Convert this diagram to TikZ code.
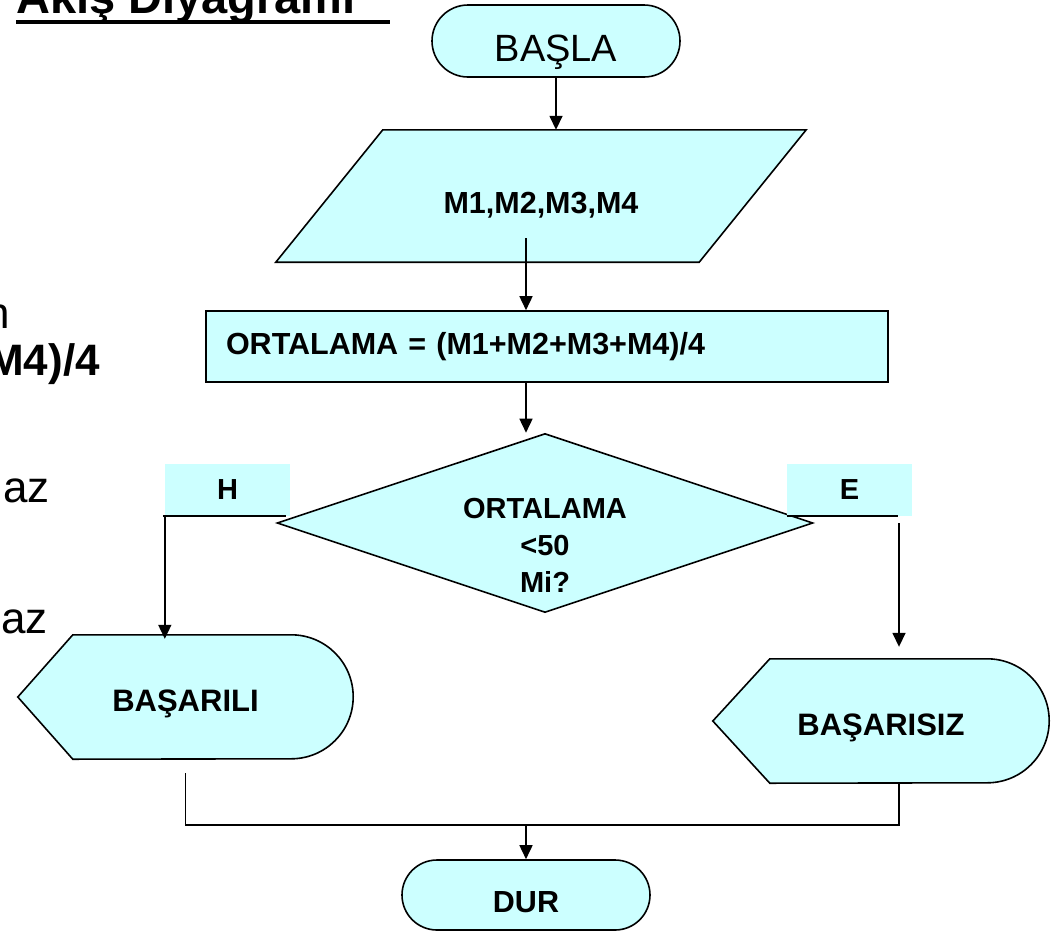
\documentclass[tikz,border=0pt]{standalone}
\usepackage{fontspec}
\setmainfont{Liberation Sans}
\usetikzlibrary{arrows.meta,positioning,shapes.geometric,shapes.misc,backgrounds}
\definecolor{boxcyan}{RGB}{204,255,255}

\begin{document}
\begin{tikzpicture}[
  x=1pt, y=-1pt,
  every node/.style={inner sep=0pt},
  term/.style={draw,fill=boxcyan,line width=1.6pt,rounded rectangle,minimum width=248pt,minimum height=72pt},
  io/.style={minimum width=423pt,minimum height=132pt,text height=34pt,text depth=0pt},
  proc/.style={draw,fill=boxcyan,line width=1.6pt,minimum width=682pt,minimum height=71pt,inner xsep=20pt,text width=642pt,align=left},
  dec/.style={draw,fill=boxcyan,line width=1.6pt,diamond,minimum width=536pt,minimum height=179pt},
  disp/.style={draw,fill=boxcyan,line width=1.6pt},
  tag/.style={fill=boxcyan,minimum width=125pt,minimum height=52pt},
  bt/.style={font=\bfseries\fontsize{30.5}{37}\selectfont},
  dt/.style={font=\bfseries\fontsize{29}{37}\selectfont},
  bigbt/.style={font=\bfseries\fontsize{31}{37}\selectfont,text height=28pt,text depth=0pt},
  slide/.style={font=\fontsize{44}{50}\selectfont},
  wire/.style={line width=1.6pt},
  arr/.style={-{Triangle[length=14pt,width=13pt]},line width=1.6pt}
]
\useasboundingbox (0,0) rectangle (1060,932);

% slide text behind the chart
\node[anchor=base west,font=\bfseries\fontsize{47}{50}\selectfont] (title) at (16,13) {Akış Diyagramı};
\draw[line width=4pt] ([yshift=-9pt]title.base west) -- ++(374,0);
\node[slide,anchor=base east] (txtn) at (10,328) {n};
\node[slide,font=\bfseries\fontsize{44}{50}\selectfont,anchor=base east] (txtm) at (100,375) {M4)/4};
\node[slide,anchor=base east] (txtaz) at (50,502) {az};
\node[slide,anchor=base east] (txtazz) at (48,633) {az};

% flow chart
\node[term,font=\fontsize{38}{40}\selectfont,text height=41pt,text depth=0pt] (start) at (556,41) {BAŞLA};
\node[io,bt] (inp) at (541,196) {M1,M2,M3,M4};
\node[proc,bt] (calc) at (547,346.5) {ORTALAMA = (M1+M2+M3+M4)/4};
\node[dec,label={[dt,align=center,yshift=-22pt]center:ORTALAMA\\<50\\Mi?}] (test) at (545,523) {};
\node[tag,dt] (htag) at (227.5,490) {H};
\node[tag,dt] (etag) at (849.5,490) {E};
\node[bigbt,minimum width=335pt,minimum height=124pt] (ok) at (185.5,697) {BAŞARILI};
\node[bigbt,minimum width=336pt,minimum height=124pt] (fail) at (881,721) {BAŞARISIZ};
\node[term,bt,minimum height=70pt,text height=35pt,text depth=0pt] (stop) at (526,895) {DUR};

\begin{scope}[on background layer]
\draw[disp] ([xshift=-53.5pt]inp.south west) -- ([xshift=53.5pt]inp.north west)
  -- ([xshift=53.5pt]inp.north east) -- ([xshift=-53.5pt]inp.south east) -- cycle;
\draw[disp] (ok.west) -- ([xshift=55pt]ok.north west) -- ([xshift=-62pt]ok.north east)
  arc[start angle=90,end angle=-90,radius=62pt] -- ([xshift=55pt]ok.south west) -- cycle;
\draw[disp] (fail.west) -- ([xshift=57pt]fail.north west) -- ([xshift=-62pt]fail.north east)
  arc[start angle=90,end angle=-90,radius=62pt] -- ([xshift=57pt]fail.south west) -- cycle;
\end{scope}

\coordinate (inpout) at (526,238);
\coordinate (eout) at (899,523);
\coordinate (okout) at ([yshift=-14pt]ok.south);
\coordinate (join) at (526,825);

\draw[arr] (start) -- (start.south |- inp.north);
\draw[arr] (inpout) -- (inpout |- calc.north);
\draw[arr] (calc.south -| inpout) -- (inpout |- test.north);
\draw[wire] ([xshift=-2pt]htag.south west) -- ([xshift=-4pt]htag.south east);
\draw[arr] (htag.south west) -- ([yshift=-4pt]htag.south west |- ok.north);
\draw[wire] (etag.south west) -- ([xshift=-14pt]etag.south east);
\draw[arr,shorten >=12pt] (eout) -- (eout |- fail.north);
\draw[wire] (okout) |- (join) -| (eout |- fail.south);
\draw[arr] (join) -- (stop.north);
\end{tikzpicture}
\end{document}
